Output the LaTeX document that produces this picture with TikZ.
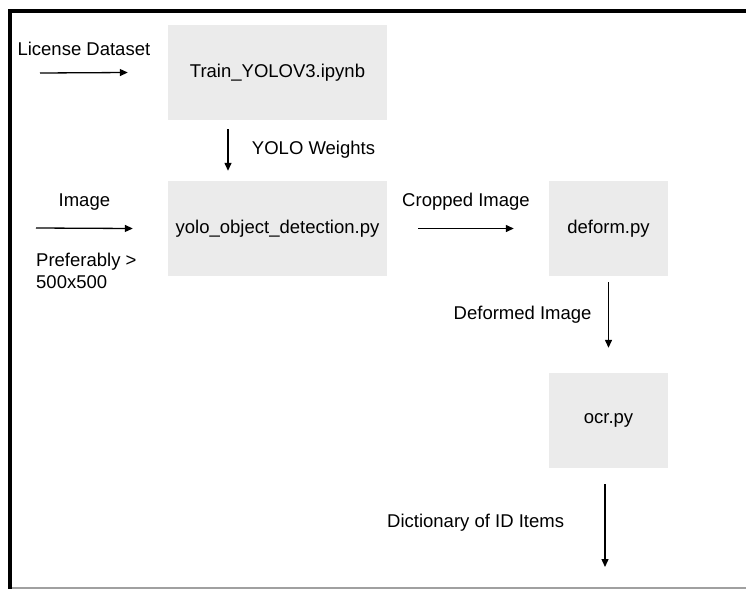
\documentclass[tikz,border=0pt]{standalone}
\usepackage{fontspec}
\setmainfont{Liberation Sans}
\usetikzlibrary{arrows.meta,positioning}
\definecolor{boxgray}{HTML}{EBEBEB}
\definecolor{rulegray}{HTML}{A0A0A0}
\tikzset{
	script/.style={fill=boxgray, minimum height=95pt, inner sep=0pt},
	flow/.style={-{Triangle[length=8pt,width=7pt]}, line width=1.3pt},
}
\begin{document}
\begin{tikzpicture}[x=1pt,y=-1pt,font=\fontsize{18.5}{22}\selectfont]
	\useasboundingbox (0,0) rectangle (746,589);

	% frame
	\draw[line width=4pt] (746,11) -- (10,11) -- (10,589);
	\draw[rulegray, line width=1.5pt] (12,588) -- (746,588);

		\node(train)  [script, minimum width=219pt] at (277.5,72.5)  {Train\_YOLOV3.ipynb};
		\node(yolo)   [script, minimum width=219pt] at (277.5,228.5) {yolo\_object\_detection.py};
		\node(deform) [script, minimum width=119pt] at (608.5,228.5) {deform.py};
		\node(ocr)    [script, minimum width=119pt] at (608.5,420.5) {ocr.py};

		\coordinate(lic_in)   at (40,73);
		\coordinate(img_in)   at (36,228);
		\coordinate(dict_out) at (605,567);

		\node(pref) [anchor=north west, align=left, inner sep=0pt] at ([yshift=-25pt]img_in) {Preferably >\\500x500};

		\draw[flow] (lic_in) -- node[yshift=24pt] {License Dataset} ([xshift=-40pt]train.west);
		\draw[flow] (img_in) -- node[yshift=26pt] {Image} ([xshift=-35pt]yolo.west);
		\draw[flow] ([xshift=-49.5pt,yshift=-9pt]train.south) -- node[right=20pt] {YOLO Weights} ([xshift=-49.5pt,yshift=10pt]yolo.north);
		\draw[flow] ([xshift=31pt]yolo.east) -- node[yshift=27pt] {Cropped Image} ([xshift=-35pt]deform.west);
		\draw[flow] ([yshift=-6pt]deform.south) -- node[left=13pt] {Deformed Image} ([yshift=25pt]ocr.north);
		\draw[flow] ([xshift=-3.5pt,yshift=-16pt]ocr.south) -- node[left=37pt, yshift=3pt] {Dictionary of ID Items} (dict_out);
	\end{tikzpicture}
\end{document}
